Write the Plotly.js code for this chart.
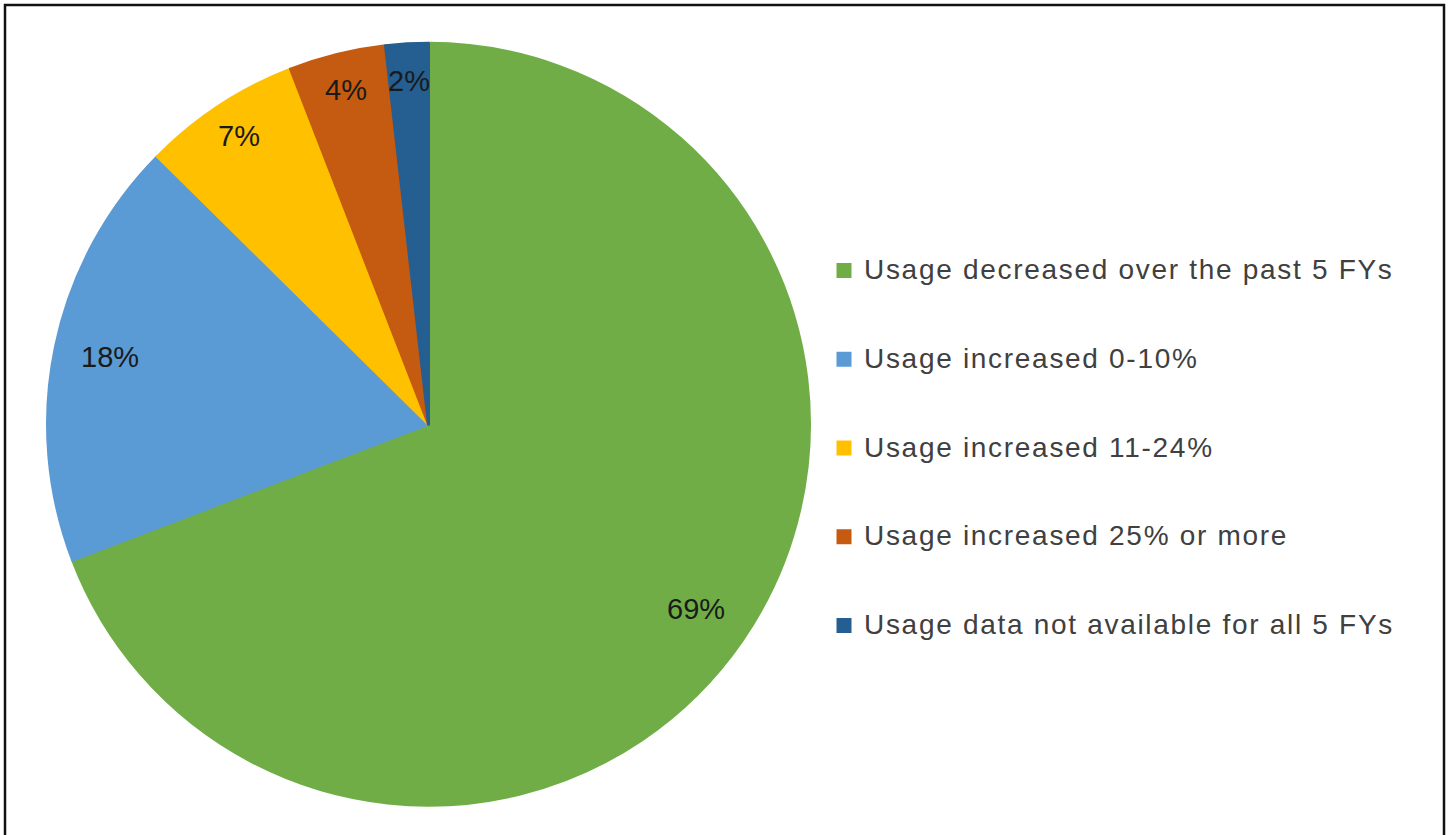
<!DOCTYPE html>
<html>
<head>
<meta charset="utf-8">
<script src="https://cdn.plot.ly/plotly-3.0.1.min.js"></script>
<style>
  html, body { margin: 0; padding: 0; background: #ffffff; }
  #chart { width: 1450px; height: 835px; }
</style>
</head>
<body>
<div id="chart"></div>
<script>
// ---- data ----
const categories = [
  "Usage decreased over the past 5 FYs",
  "Usage increased 0-10%",
  "Usage increased 11-24%",
  "Usage increased 25% or more",
  "Usage data not available for all 5 FYs"
];
const values = [69.2, 18.2, 6.7, 4.1, 1.8];
const sliceColors = ["#70AD47", "#5B9BD5", "#FFC000", "#C55A11", "#255E91"];

// ---- layout geometry (styling) ----
const W = 1450, H = 835;
const CX = 428.5, CY = 424.2;   // pie centre in px
const R = 381;                  // pie radius in px (stroke adds ~1.5px)
const STROKE = 3;
const LABEL_FONT = 29;
const LEGEND_FONT = 28;

const total = values.reduce((a, b) => a + b, 0);

const legendLabels = categories.map(c =>
  '<br><span style="font-size:' + LEGEND_FONT + 'px;letter-spacing:1.7px">' + c + '</span><br>&nbsp;'
);

const trace = {
  type: 'pie',
  labels: legendLabels,
  values: values,
  sort: false,
  direction: 'clockwise',
  rotation: 0,
  marker: { colors: sliceColors, line: { color: sliceColors, width: STROKE } },
  textinfo: 'none',
  hoverinfo: 'skip',
  showlegend: true,
  domain: {
    x: [(CX - R) / W, (CX + R) / W],
    y: [1 - (CY + R) / H, 1 - (CY - R) / H]
  }
};

// percent labels, positioned along each slice bisector
const annotations = [];
let cum = 0;
const Rvis = R + STROKE / 2;
values.forEach((v, i) => {
  const frac = v / total;
  const mid = cum + frac / 2;
  cum += frac;
  const theta = 2 * Math.PI * mid;
  const rf = frac >= 0.1 ? 0.85 : 0.9;
  const px = CX + rf * Rvis * Math.sin(theta);
  const py = CY - rf * Rvis * Math.cos(theta);
  annotations.push({
    xref: 'paper', yref: 'paper',
    x: px / W, y: 1 - py / H,
    xanchor: 'center', yanchor: 'middle',
    text: Math.round(frac * 100) + '%',
    showarrow: false,
    font: { family: '"Liberation Sans", Arial, sans-serif', size: LABEL_FONT, color: '#1a1a1a' }
  });
});

const layout = {
  width: W, height: H,
  margin: { l: 0, r: 0, t: 0, b: 0 },
  paper_bgcolor: '#ffffff',
  plot_bgcolor: '#ffffff',
  font: { family: '"Liberation Sans", Arial, sans-serif', color: '#404040' },
  showlegend: true,
  legend: {
    x: 824 / W, xanchor: 'left',
    y: 1 - 221 / H, yanchor: 'top',
    font: { family: '"Liberation Sans", Arial, sans-serif', size: 22, color: '#404040' },
    bgcolor: 'rgba(0,0,0,0)',
    borderwidth: 0,
    traceorder: 'normal'
  },
  annotations: annotations,
  shapes: [{
    type: 'rect', xref: 'paper', yref: 'paper',
    x0: 5 / W, x1: 1444 / W, y0: -0.2, y1: 1 - 5 / H,
    line: { color: '#111111', width: 2.5 },
    fillcolor: 'rgba(0,0,0,0)', layer: 'above'
  }]
};

Plotly.newPlot('chart', [trace], layout, { displayModeBar: false, staticPlot: true });
</script>
</body>
</html>
